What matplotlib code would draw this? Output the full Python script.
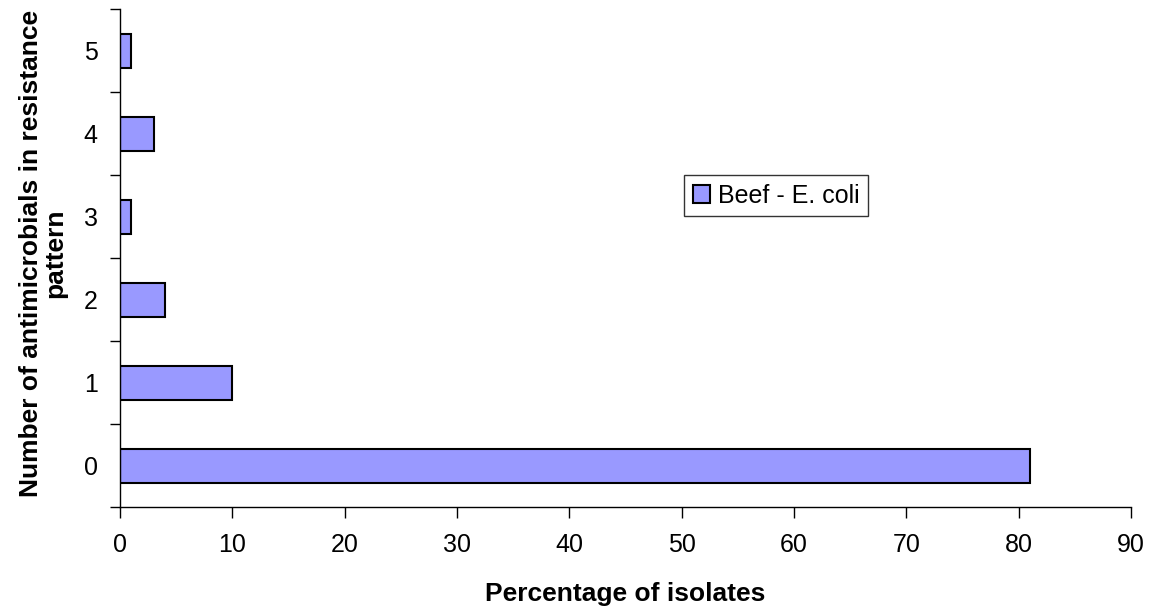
import numpy as np
import matplotlib.pyplot as plt
from matplotlib.ticker import FixedLocator

plt.rcParams['font.family'] = ['Liberation Sans', 'DejaVu Sans']

categories = ['0', '1', '2', '3', '4', '5']
percent = [81, 10, 4, 1, 3, 1]
series_name = 'Beef - E. coli'

fig = plt.figure(figsize=(11.51, 6.08), dpi=100)
ax = fig.add_axes([0.1043, 0.166, 0.8783, 0.819])

y = np.arange(len(categories))
ax.barh(y, percent, height=0.41, color='#9999FF', edgecolor='black',
        linewidth=1.5, label=series_name)

ax.set_xlim(0, 90)
ax.set_ylim(-0.5, len(categories) - 0.5)
ax.set_xticks(range(0, 91, 10))
ax.set_yticks(y)
ax.set_yticklabels(categories)
ax.yaxis.set_minor_locator(FixedLocator(np.arange(-0.5, len(categories), 1.0)))

ax.tick_params(axis='y', which='major', length=0, pad=16, labelsize=18)
ax.tick_params(axis='y', which='minor', length=7, width=1, direction='out')
ax.tick_params(axis='x', which='major', length=8, width=1, direction='out',
               pad=11, labelsize=18)

for side in ['top', 'right']:
    ax.spines[side].set_visible(False)
for side in ['left', 'bottom']:
    ax.spines[side].set_linewidth(1)

ax.set_xlabel('Percentage of isolates', fontsize=19, fontweight='bold', labelpad=18)
ax.set_ylabel('Number of antimicrobials in resistance\npattern', fontsize=19,
              fontweight='bold', linespacing=1.05)
ax.yaxis.set_label_coords(-0.052, 0.51)

leg = ax.legend(loc='upper left', bbox_to_anchor=(0.558, 0.667), borderaxespad=0,
                fancybox=False, edgecolor='black', fontsize=18, handlelength=0.7,
                handleheight=0.7, handletextpad=0.3, borderpad=0.35)
leg.get_frame().set_linewidth(1)

fig.savefig('out.png', dpi=100)
